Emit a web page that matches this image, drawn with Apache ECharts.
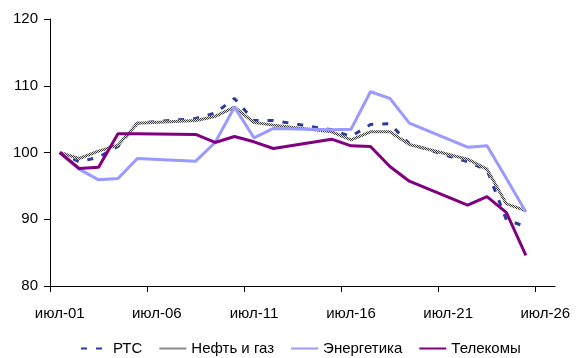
<!DOCTYPE html>
<html>
<head>
<meta charset="utf-8">
<script src="https://cdn.jsdelivr.net/npm/echarts@6/dist/echarts.min.js"></script>
<style>
html,body{margin:0;padding:0;background:#fff;}
#chart{width:576px;height:358px;}
</style>
</head>
<body>
<div id="chart"></div>
<script>
// Trading days of July (day of month)
const days = [1, 2, 3, 4, 5, 8, 9, 10, 11, 12, 15, 16, 17, 18, 19, 22, 23, 24, 25];
const rts      = [100, 98.6, 99.3, 100.9, 104.4, 105.1, 105.9, 108.1, 104.8, 104.8, 103.4, 102.4, 104.2, 104.3, 101.3, 98.6, 97.4, 89.9, 88.9];
const oilGas   = [100, 99.1, 100.2, 101.1, 104.4, 104.8, 105.4, 106.8, 104.5, 104.1, 103.1, 101.9, 103.1, 103.1, 101.2, 99.0, 97.5, 92.3, 91.3];
const energy   = [100, 97.5, 95.9, 96.1, 99.1, 98.7, 101.5, 106.8, 102.2, 103.6, 103.4, 103.5, 109.1, 108.1, 104.4, 100.8, 101.0, 96.1, 91.1];
const telecom  = [100, 97.6, 97.8, 102.8, 102.8, 102.7, 101.5, 102.4, 101.6, 100.6, 102.0, 101.0, 100.9, 97.9, 95.7, 92.1, 93.4, 91.0, 84.6];
const seriesNames = ['РТС', 'Нефть и газ', 'Энергетика', 'Телекомы'];
const tickDays = [1, 6, 11, 16, 21, 26];
const tickLabels = ['июл-01', 'июл-06', 'июл-11', 'июл-16', 'июл-21', 'июл-26'];

function pairs(vals) { return days.map((d, i) => [d, vals[i]]); }

// hatched pattern for the oil & gas line
const pc = document.createElement('canvas');
pc.width = 2; pc.height = 2;
const pctx = pc.getContext('2d');
pctx.fillStyle = '#dcdcdc'; pctx.fillRect(0, 0, 2, 2);
pctx.fillStyle = '#3a3a3a'; pctx.fillRect(0, 0, 1, 1); pctx.fillRect(1, 1, 1, 1);
const hatch = { image: pc, repeat: 'repeat' };

const FONT = 'Liberation Sans, Arial, sans-serif';
const chart = echarts.init(document.getElementById('chart'), null, { renderer: 'canvas' });
chart.setOption({
  animation: false,
  backgroundColor: '#fff',
  grid: { left: 50, right: 21, top: 19, bottom: 72, containLabel: false },
  legend: {
    left: 75, top: 336,
    itemWidth: 27, itemHeight: 12, itemGap: 16,
    itemStyle: { opacity: 0, borderWidth: 0 },
    textStyle: { fontFamily: FONT, fontSize: 15, color: '#000' },
    data: seriesNames
  },
  xAxis: {
    type: 'value', min: 0.5, max: 26.5,
    axisLine: { show: true, lineStyle: { color: '#000', width: 1 } },
    axisTick: { show: true, length: 6, lineStyle: { color: '#000' },
      customValues: tickDays.map(d => d - 0.5) },
    axisLabel: { customValues: tickDays, margin: 20, fontFamily: FONT, fontSize: 15, color: '#000',
      formatter: v => tickLabels[tickDays.indexOf(Math.round(v))] || '' },
    splitLine: { show: false }
  },
  yAxis: {
    type: 'value', min: 80, max: 120, interval: 10,
    axisLine: { show: true, lineStyle: { color: '#000', width: 1 } },
    axisTick: { show: true, length: 6, lineStyle: { color: '#000' } },
    axisLabel: { margin: 12, fontFamily: FONT, fontSize: 15, color: '#000' },
    splitLine: { show: false }
  },
  series: [
    { name: seriesNames[0], type: 'line', data: pairs(rts), symbol: 'none',
      itemStyle: { color: '#2e3a9c' },
      lineStyle: { color: '#2e3a9c', width: 3, type: [6, 9] } },
    { name: seriesNames[1], type: 'line', data: pairs(oilGas), symbol: 'none',
      itemStyle: { color: '#808080' },
      lineStyle: { color: hatch, width: 3 } },
    { name: seriesNames[2], type: 'line', data: pairs(energy), symbol: 'none',
      itemStyle: { color: '#9999ff' },
      lineStyle: { color: '#9999ff', width: 3 } },
    { name: seriesNames[3], type: 'line', data: pairs(telecom), symbol: 'none',
      itemStyle: { color: '#800080' },
      lineStyle: { color: '#800080', width: 3 } }
  ]
});
</script>
</body>
</html>
